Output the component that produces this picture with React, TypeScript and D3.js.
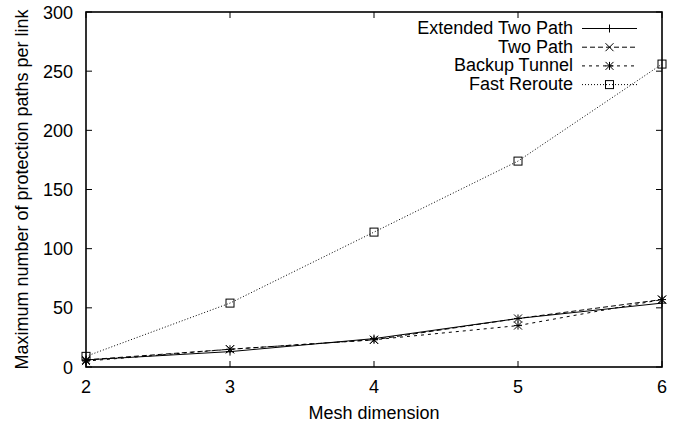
import React, { useRef, useEffect } from "react";
import * as d3 from "d3";

const meshDims = [2, 3, 4, 5, 6];
const extendedTwoPath = [6, 13, 24, 41, 54];
const twoPath = [6, 15, 23, 41, 57];
const backupTunnel = [5, 15, 23, 35, 57];
const fastReroute = [9, 54, 114, 174, 256];
const yTicks = [0, 50, 100, 150, 200, 250, 300];

const series = [
  { name: "Extended Two Path", values: extendedTwoPath, dash: null, marker: "plus" },
  { name: "Two Path", values: twoPath, dash: "5,3", marker: "cross" },
  { name: "Backup Tunnel", values: backupTunnel, dash: "3,4", marker: "star" },
  { name: "Fast Reroute", values: fastReroute, dash: "1,2", marker: "square" },
];

const App = () => {
  const svgRef = useRef(null);

  useEffect(() => {
    const svg = d3.select(svgRef.current);
    svg.selectAll("*").remove();
    const width = 684;
    const height = 425;
    const margin = { top: 12, right: 22, bottom: 58, left: 86 };
    const font = "'Liberation Sans', Arial, sans-serif";
    const fs = 18;

    const x = d3.scaleLinear().domain([2, 6]).range([margin.left, width - margin.right]);
    const y = d3.scaleLinear().domain([0, 300]).range([height - margin.bottom, margin.top]);

    const g = svg.append("g");

    // ticks inside, mirrored
    const tl = 6;
    meshDims.forEach((d) => {
      g.append("line").attr("x1", x(d)).attr("x2", x(d)).attr("y1", y(0)).attr("y2", y(0) - tl).attr("stroke", "#000");
      g.append("line").attr("x1", x(d)).attr("x2", x(d)).attr("y1", y(300)).attr("y2", y(300) + tl).attr("stroke", "#000");
      g.append("text").attr("x", x(d)).attr("y", y(0) + 26).attr("text-anchor", "middle")
        .attr("font-family", font).attr("font-size", fs).text(d);
    });
    yTicks.forEach((d) => {
      g.append("line").attr("x1", x(2)).attr("x2", x(2) + tl).attr("y1", y(d)).attr("y2", y(d)).attr("stroke", "#000");
      g.append("line").attr("x1", x(6)).attr("x2", x(6) - tl).attr("y1", y(d)).attr("y2", y(d)).attr("stroke", "#000");
      g.append("text").attr("x", x(2) - 13).attr("y", y(d) + 6.5).attr("text-anchor", "end")
        .attr("font-family", font).attr("font-size", fs).text(d);
    });

    const line = d3.line().x((d) => x(d[0])).y((d) => y(d[1]));

    const drawMarker = (sel, type, cx, cy) => {
      const s = 4;
      if (type === "plus") {
        sel.append("path").attr("d", `M${cx - s},${cy}H${cx + s}M${cx},${cy - s}V${cy + s}`).attr("stroke", "#000").attr("fill", "none");
      } else if (type === "cross") {
        sel.append("path").attr("d", `M${cx - s},${cy - s}L${cx + s},${cy + s}M${cx - s},${cy + s}L${cx + s},${cy - s}`).attr("stroke", "#000").attr("fill", "none");
      } else if (type === "star") {
        sel.append("path").attr("d", `M${cx - s},${cy}H${cx + s}M${cx},${cy - s}V${cy + s}M${cx - s},${cy - s}L${cx + s},${cy + s}M${cx - s},${cy + s}L${cx + s},${cy - s}`).attr("stroke", "#000").attr("fill", "none");
      } else {
        sel.append("rect").attr("x", cx - s).attr("y", cy - s).attr("width", 2 * s).attr("height", 2 * s).attr("stroke", "#000").attr("fill", "none");
      }
    };

    series.forEach((s) => {
      const pts = meshDims.map((d, i) => [d, s.values[i]]);
      g.append("path").attr("d", line(pts)).attr("fill", "none").attr("stroke", "#000")
        .attr("stroke-width", 1).attr("stroke-dasharray", s.dash);
      pts.forEach((p) => drawMarker(g, s.marker, x(p[0]), y(p[1])));
    });

    // frame
    g.append("rect").attr("x", x(2)).attr("y", y(300)).attr("width", x(6) - x(2)).attr("height", y(0) - y(300))
      .attr("fill", "none").attr("stroke", "#000").attr("stroke-width", 1.6);

    // legend
    series.forEach((s, i) => {
      const ly = 28.5 + i * 18.7;
      g.append("text").attr("x", 573).attr("y", ly + 5.5).attr("text-anchor", "end")
        .attr("font-family", font).attr("font-size", fs).text(s.name);
      g.append("line").attr("x1", 582).attr("x2", 637).attr("y1", ly).attr("y2", ly)
        .attr("stroke", "#000").attr("stroke-dasharray", s.dash);
      drawMarker(g, s.marker, 609.5, ly);
    });

    g.append("text").attr("x", (x(2) + x(6)) / 2).attr("y", 419).attr("text-anchor", "middle")
      .attr("font-family", font).attr("font-size", fs).text("Mesh dimension");
    g.append("text").attr("transform", `translate(28,${(y(0) + y(300)) / 2}) rotate(-90)`)
      .attr("text-anchor", "middle").attr("font-family", font).attr("font-size", fs)
      .text("Maximum number of protection paths per link");
  }, []);

  return <svg ref={svgRef} width="684" height="425" style={{ position: "absolute", left: 0, top: 0 }}></svg>;
};

export default App;
